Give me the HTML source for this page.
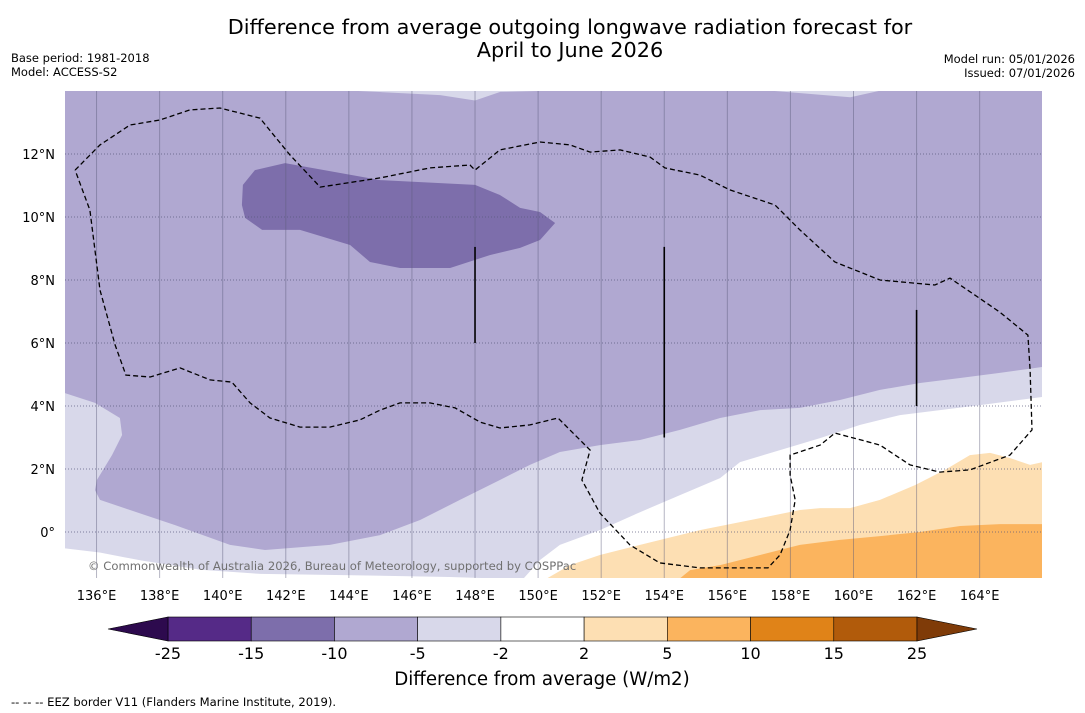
<!DOCTYPE html>
<html><head><meta charset="utf-8"><style>
body{margin:0;background:#fff;}
svg{display:block;font-family:"DejaVu Sans","Liberation Sans",sans-serif;}
</style></head><body>
<svg id="chart" width="1085" height="713" viewBox="0 0 1085 713">
<rect width="1085" height="713" fill="#fff"/>
<text x="570" y="34" text-anchor="middle" font-size="20.8">Difference from average outgoing longwave radiation forecast for</text>
<text x="570" y="57" text-anchor="middle" font-size="20.8">April to June 2026</text>
<text x="11" y="62" font-size="11.5">Base period: 1981-2018</text>
<text x="11" y="76" font-size="11.5">Model: ACCESS-S2</text>
<text x="1075" y="63" font-size="11.5" text-anchor="end">Model run: 05/01/2026</text>
<text x="1075" y="77" font-size="11.5" text-anchor="end">Issued: 07/01/2026</text>
<defs><clipPath id="mc"><rect x="65" y="91" width="977" height="487"/></clipPath></defs>
<g id="map" clip-path="url(#mc)"></g>
<g id="axes"></g>
<g id="cbar"></g>
<text x="542" y="685" text-anchor="middle" font-size="18.2">Difference from average (W/m2)</text>
<text x="11" y="706" font-size="11.6">--  --  -- EEZ border V11 (Flanders Marine Institute, 2019).</text>
</svg>
<script>
const lonTicks=[136,138,140,142,144,146,148,150,152,154,156,158,160,162,164];
const latTicks=[0,2,4,6,8,10,12];
const levels=[-25,-15,-10,-5,-2,2,5,10,15,25];
const levelColors=["#552a87","#7d6eab","#b0a8d1","#d8d8ea","#ffffff","#fddfb3","#fbb45e","#e08318","#b15b0b"];
const topLavender1=[[144.3,14],[146.9,13.87],[148,13.7],[148.8,13.97],[150,14]];
const topLavender2=[[157.5,14],[159.9,13.8],[160.8,14]];
const lavender=[[135,4.41],[135.95,4.1],[136.74,3.62],[136.81,3.08],[136.49,2.44],[136.01,1.65],[135.95,1.33],[136.11,1.02],[137.06,0.7],[138.49,0.22],[140.23,-0.41],[141.34,-0.57],[143.4,-0.41],[144.99,-0.1],[146.26,0.38],[147.52,1.02],[148.79,1.65],[149.74,2.13],[150.69,2.54],[151.96,2.76],[153.23,2.92],[154.5,3.24],[155.77,3.62],[157.04,3.87],[158.3,3.94],[159.57,4.19],[160.84,4.51],[162.11,4.73],[163.38,4.89],[164.64,5.05],[166,5.24],[166,-1.6],[135,-1.6]];
const whiteBand=[[149.43,-1.6],[150.06,-0.89],[150.69,-0.41],[151.96,0.06],[153.23,0.63],[154.5,1.17],[155.77,1.71],[156.4,2.22],[157.67,2.6],[158.94,2.98],[160.21,3.4],[161.47,3.71],[162.74,3.87],[164.01,4.03],[166,4.29],[166,-1.6]];
const whiteSW=[[135,-0.52],[136.1,-0.65],[137.4,-0.9],[139.3,-1.2],[141.2,-1.33],[144.1,-1.37],[147.2,-1.43],[149.5,-1.5],[149.5,-1.6],[135,-1.6]];
const lightOrange=[[150.06,-1.6],[151.01,-1.05],[151.96,-0.73],[153.23,-0.41],[155.13,0.06],[157.04,0.44],[158.3,0.7],[158.94,0.76],[159.89,0.76],[160.84,1.02],[161.95,1.49],[162.9,1.97],[163.69,2.44],[164.33,2.51],[164.96,2.35],[165.6,2.13],[166,2.22],[166,-1.6]];
const orange=[[154.34,-1.6],[154.82,-1.21],[155.77,-1.05],[157.04,-0.73],[158.3,-0.41],[159.57,-0.25],[160.84,-0.13],[162.11,0],[163.38,0.19],[164.64,0.25],[166,0.25],[166,-1.6]];
const darkBlob=[[140.64,11.02],[141.02,11.49],[141.98,11.71],[144.99,11.17],[148,11.02],[148.79,10.7],[149.43,10.29],[150.06,10.16],[150.54,9.81],[150.06,9.27],[149.43,9.02],[148.47,8.79],[147.21,8.38],[145.62,8.38],[144.67,8.57],[144.04,9.11],[142.45,9.59],[141.25,9.59],[140.71,9.97],[140.61,10.38]];
const eez=[[135.32,11.49],[136.11,12.29],[137.06,12.92],[138.01,13.08],[138.96,13.4],[139.91,13.46],[141.18,13.14],[142.13,11.97],[143.09,10.95],[144.99,11.24],[146.57,11.56],[147.84,11.65],[148,11.49],[148.79,12.13],[150.06,12.38],[151.01,12.29],[151.65,12.06],[152.6,12.13],[153.55,11.9],[154.02,11.56],[155.13,11.33],[156.08,10.86],[157.51,10.38],[158.3,9.59],[159.41,8.57],[160.84,8],[162.58,7.84],[163.06,8.06],[164.64,6.98],[165.53,6.25],[165.6,5.14],[165.66,3.24],[164.96,2.44],[163.69,1.97],[162.74,1.9],[161.79,2.13],[160.84,2.76],[160.36,2.89],[159.41,3.14],[158.94,2.76],[157.99,2.44],[157.99,1.81],[158.15,1.02],[157.99,0.06],[157.67,-0.73],[157.29,-1.14],[155.13,-1.14],[153.86,-0.98],[152.91,-0.41],[151.96,0.6],[151.39,1.65],[151.65,2.6],[151.17,3.08],[150.63,3.62],[149.74,3.4],[148.79,3.3],[148.16,3.49],[147.37,3.94],[146.57,4.1],[145.62,4.1],[144.99,3.87],[144.35,3.56],[143.4,3.33],[142.45,3.33],[141.5,3.62],[140.87,4.1],[140.29,4.76],[139.6,4.83],[138.65,5.21],[137.7,4.92],[136.93,4.98],[136.59,5.94],[136.11,7.68],[135.79,10.22],[135.32,11.49]];
const borderSegs=[[[148,9.05],[148,6]],[[154,9.05],[154,3]],[[162,7.05],[162,4]]];

const NS="http://www.w3.org/2000/svg";
const X=lon=>65+(lon-135)*31.54;
const Y=lat=>91+(14-lat)*31.5;
const map=document.getElementById('map'),axes=document.getElementById('axes'),cb=document.getElementById('cbar');
function mk(tag,attrs,parent){const e=document.createElementNS(NS,tag);for(const k in attrs)e.setAttribute(k,attrs[k]);parent.appendChild(e);return e;}
function pts(a){return a.map(p=>X(p[0]).toFixed(1)+","+Y(p[1]).toFixed(1)).join(" ");}
let r=mk('rect',{x:65,y:91,width:977,height:487,fill:levelColors[2]},map);


const layers=[[topLavender1,3,'top-lavender-a'],[topLavender2,3,'top-lavender-b'],[lavender,3,'lavender-region'],[whiteBand,4,'neutral-band'],[whiteSW,4,'neutral-southwest'],[lightOrange,5,'light-orange-region'],[orange,6,'orange-region'],[darkBlob,1,'dark-purple-region']];
layers.forEach(l=>{const p=mk('polygon',{points:pts(l[0]),fill:levelColors[l[1]]},map);

});
lonTicks.forEach(t=>{const l=mk('line',{x1:X(t),x2:X(t),y1:91,y2:578,stroke:'#5a5a7a','stroke-opacity':0.45,'stroke-width':1},map);


const tx=mk('text',{x:X(t),y:600,'text-anchor':'middle','font-size':13},axes);tx.textContent=t+'°E';

});
latTicks.forEach(t=>{const l=mk('line',{x1:65,x2:1042,y1:Y(t),y2:Y(t),stroke:'#55557a','stroke-opacity':0.7,'stroke-width':1,'stroke-dasharray':'1,2'},map);


const tx=mk('text',{x:55,y:Y(t)+5,'text-anchor':'end','font-size':13},axes);tx.textContent=t===0?'0°':t+'°N';

});
const e=mk('polyline',{points:pts(eez),fill:'none',stroke:'#000','stroke-width':1.3,'stroke-dasharray':'5,3'},map);


borderSegs.forEach((s,i)=>{const l=mk('line',{x1:X(s[0][0]),y1:Y(s[0][1]),x2:X(s[1][0]),y2:Y(s[1][1]),stroke:'#000','stroke-width':1.6},map);

});
const cr=mk('text',{x:88,y:570,'font-size':11.6,fill:'#707070'},map);cr.textContent='© Commonwealth of Australia 2026, Bureau of Meteorology, supported by COSPPac';


const cx0=168,cw=(917-168)/9,cy=617,ch=24;
levelColors.forEach((c,i)=>{const b=mk('rect',{x:cx0+i*cw,y:cy,width:cw,height:ch,fill:c,stroke:'#000','stroke-width':0.6},cb);

});
let t1=mk('polygon',{points:`${cx0},${cy} ${cx0},${cy+ch} 108,${cy+ch/2}`,fill:'#2d0a4e',stroke:'#000','stroke-width':0.6},cb);


let t2=mk('polygon',{points:`917,${cy} 917,${cy+ch} 977,${cy+ch/2}`,fill:'#7f3b08',stroke:'#000','stroke-width':0.6},cb);


levels.forEach((v,i)=>{const tx=mk('text',{x:cx0+i*cw,y:659,'text-anchor':'middle','font-size':16},cb);tx.textContent=v;

});
</script>
</body></html>
